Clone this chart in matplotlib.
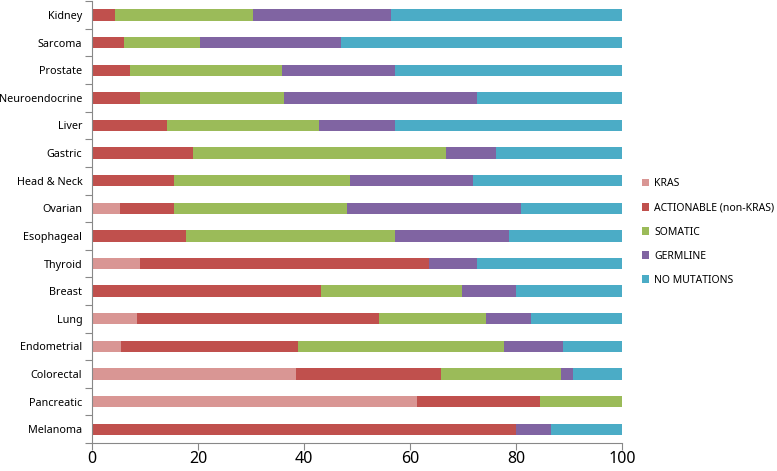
import numpy as np
import matplotlib.pyplot as plt

# categories listed top to bottom, as in the chart
cancers = ["Kidney", "Sarcoma", "Prostate", "Neuroendocrine", "Liver", "Gastric",
           "Head & Neck", "Ovarian", "Esophageal", "Thyroid", "Breast", "Lung",
           "Endometrial", "Colorectal", "Pancreatic", "Melanoma"]

kras = [0, 0, 0, 0, 0, 0, 0, 5.2, 0, 9.1, 0, 8.4, 5.5, 38.5, 61.4, 0]
actionable = [4.3, 6.0, 7.1, 9.0, 14.2, 19.1, 15.4, 10.3, 17.7, 54.5, 43.3, 45.8, 33.3, 27.3, 23.2, 80.0]
somatic = [26.1, 14.4, 28.7, 27.2, 28.6, 47.6, 33.3, 32.7, 39.5, 0, 26.6, 20.1, 38.9, 22.7, 15.4, 0]
germline = [26.0, 26.6, 21.4, 36.4, 14.4, 9.5, 23.1, 32.7, 21.4, 9.1, 10.1, 8.5, 11.2, 2.3, 0, 6.7]
no_mut = [43.6, 53.0, 42.8, 27.4, 42.8, 23.8, 28.2, 19.1, 21.4, 27.3, 20.0, 17.2, 11.1, 9.2, 0, 13.3]

series = [("KRAS", kras, "#D99694"),
          ("ACTIONABLE (non-KRAS)", actionable, "#C0504D"),
          ("SOMATIC", somatic, "#9BBB59"),
          ("GERMLINE", germline, "#8064A2"),
          ("NO MUTATIONS", no_mut, "#4BACC6")]

plt.rcParams['font.family'] = ['Noto Sans', 'DejaVu Sans']

fig = plt.figure(figsize=(7.77, 4.71), dpi=100)
ax = fig.add_axes([0.1184, 0.0594, 0.6821, 0.938])

n = len(cancers)
ypos = np.arange(n)[::-1]
left = np.zeros(n)
for name, vals, col in series:
    vals = np.array(vals)
    ax.barh(ypos, vals, left=left, height=0.41, color=col, label=name)
    left += vals

ax.set_xlim(0, 100)
ax.set_ylim(-0.5, n - 0.5)
ax.set_xticks([0, 20, 40, 60, 80, 100])
ax.tick_params(axis='x', labelsize=11.5, length=5, color='#888888', direction='out', pad=1)

# excel style: ticks between categories, labels in the middle
ax.set_yticks(np.arange(n + 1) - 0.5)
ax.set_yticklabels([])
ax.set_yticks(ypos, minor=True)
ax.set_yticklabels(cancers, minor=True, fontsize=7.8)
ax.tick_params(axis='y', which='major', length=5, color='#888888', direction='out')
ax.tick_params(axis='y', which='minor', length=0, pad=7)

for s in ['top', 'right']:
    ax.spines[s].set_visible(False)
for s in ['left', 'bottom']:
    ax.spines[s].set_color('#888888')

ax.legend(loc='upper left', bbox_to_anchor=(1.02, 0.62), frameon=False, fontsize=7.5,
          handlelength=0.7, handleheight=0.7, handletextpad=0.5, labelspacing=1.25)

fig.savefig("out.png", dpi=100)
